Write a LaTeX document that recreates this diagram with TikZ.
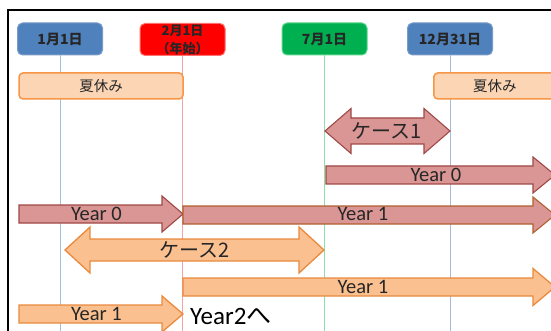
\documentclass[tikz,border=0pt]{standalone}
\usepackage{fontspec}
\setmainfont{Carlito}
\newfontfamily\jp{Noto Sans CJK JP}

\definecolor{hblue}{HTML}{4F81BD}
\definecolor{hblueline}{HTML}{7A9CC8}
\definecolor{hred}{HTML}{FF0000}
\definecolor{hredline}{HTML}{FF7070}
\definecolor{hgreen}{HTML}{00B050}
\definecolor{hgreenline}{HTML}{5CD68A}
\definecolor{summerfill}{HTML}{FCD5B5}
\definecolor{summerline}{HTML}{F79646}
\definecolor{rosefill}{HTML}{D99694}
\definecolor{roseline}{HTML}{A04845}
\definecolor{rustline}{HTML}{B0602E}
\definecolor{orangefill}{HTML}{FAC090}
\definecolor{orangeline}{HTML}{E98A3C}
\definecolor{vblue}{HTML}{A3BCDD}
\definecolor{vred}{HTML}{F4A3A3}
\definecolor{vgreen}{HTML}{8EE0A8}
\definecolor{ink}{HTML}{262626}

% right-pointing block arrow: x start, head base, tip, y centre, shaft half, head half
\newcommand{\blockright}[6]{(#1,#4-#5) -- (#2,#4-#5) -- (#2,#4-#6) -- (#3,#4)
  -- (#2,#4+#6) -- (#2,#4+#5) -- (#1,#4+#5) -- cycle}
% two-headed block arrow: left tip, right tip, y centre, shaft half, head half, head length
\newcommand{\blockboth}[6]{(#1,#3) -- (#1+#6,#3-#5) -- (#1+#6,#3-#4) -- (#2-#6,#3-#4)
  -- (#2-#6,#3-#5) -- (#2,#3) -- (#2-#6,#3+#5) -- (#2-#6,#3+#4) -- (#1+#6,#3+#4)
  -- (#1+#6,#3+#5) -- cycle}

\tikzset{
  datebox/.style={rounded corners=5pt, line width=1pt, minimum width=85pt,
    minimum height=32pt, inner sep=0pt, align=center, text=ink,
    font=\jp\bfseries\fontsize{14}{15}\selectfont},
  summerbox/.style={rounded corners=4pt, line width=1.5pt, draw=summerline,
    fill=summerfill, minimum height=26pt, inner sep=0pt, text=ink,
    font=\jp\fontsize{14.5}{15}\selectfont},
  vline/.style={line width=0.9pt},
  rosearrow/.style={fill=rosefill, draw=roseline, line width=1.1pt, line join=miter},
  rustarrow/.style={fill=rosefill, draw=rustline, line width=1.1pt, line join=miter},
  orangearrow/.style={fill=orangefill, draw=orangeline, line width=1.3pt, line join=miter},
  yearlabel/.style={text=ink, inner sep=0pt, font=\fontsize{20.5}{21}\selectfont},
  caselabel/.style={text=ink, inner sep=0pt, font=\jp\fontsize{20}{21}\selectfont},
}

\begin{document}
\begin{tikzpicture}[x=1pt, y=-1pt]
\useasboundingbox (0,0) rectangle (551,331);
\clip (0,0) rectangle (551,331);
\fill[white] (0,0) rectangle (551,331);

% frame edges
\draw[line width=1.5pt] (8,335) -- (8,10) -- (560,10);

% date headers
\node[datebox, fill=hblue, draw=hblueline] (jan) at (60,39) {1月1日};
\node[datebox, fill=hred, draw=hredline,
  font=\jp\bfseries\fontsize{13}{14}\selectfont] (feb) at (182.5,39.5) {2月1日\\[4pt]（年始）};
\node[datebox, fill=hgreen, draw=hgreenline] (jul) at (324.5,39) {7月1日};
\node[datebox, fill=hblue, draw=hblueline] (dec) at (450,39) {12月31日};

% time lines below each header
\coordinate (floor) at (0,335);
\draw[vline, vblue] (jan.south) -- (jan.south |- floor);
\draw[vline, vred] (feb.south) -- (feb.south |- floor);
\draw[vline, vgreen] (jul.south) -- (jul.south |- floor);
\draw[vline, vblue] (dec.south) -- (dec.south |- floor);

% summer holidays
\node[summerbox, minimum width=164pt] (summer1) at (101,86) {夏休み};
\node[summerbox, minimum width=164pt, anchor=west] (summer2) at (433,86) {\hspace*{-42pt}夏休み};

% case 1
\draw[rosearrow] \blockboth{325}{450}{131}{13}{22.5}{26};
\node[caselabel] (case1) at (387,131) {ケース1};

% year 0 starting at 7/1
\draw[rosearrow] \blockright{326}{533}{555}{175}{9}{18};
\node[yearlabel] (y0b) at (436,175) {Year 0};

% year 0 up to 2/1
\draw[rosearrow] \blockright{19}{162}{183}{214}{9}{18};
\node[yearlabel] (y0a) at (96.5,214) {Year 0};

% year 1 from 2/1
\draw[rustarrow] \blockright{183}{533}{555}{215}{9}{18};
\node[yearlabel] (y1a) at (363,214) {Year 1};

% case 2
\draw[orangearrow] \blockboth{65}{324}{250}{11}{23}{25};
\node[caselabel] (case2) at (194.5,250) {ケース2};

% year 1 from 2/1 (orange)
\draw[orangearrow] \blockright{183}{533}{555}{287}{9}{18.5};
\node[yearlabel] (y1b) at (363,287) {Year 1};

% year 1 up to 2/1 (orange)
\draw[orangearrow] \blockright{19}{162}{183}{314}{9}{18};
\node[yearlabel] (y1c) at (96.5,314) {Year 1};

% continuation note
\node[anchor=west, text=black, inner sep=0pt, font=\fontsize{25}{26}\selectfont]
  (next) at (190,316) {Year2{\jp へ}};
\end{tikzpicture}
\end{document}
